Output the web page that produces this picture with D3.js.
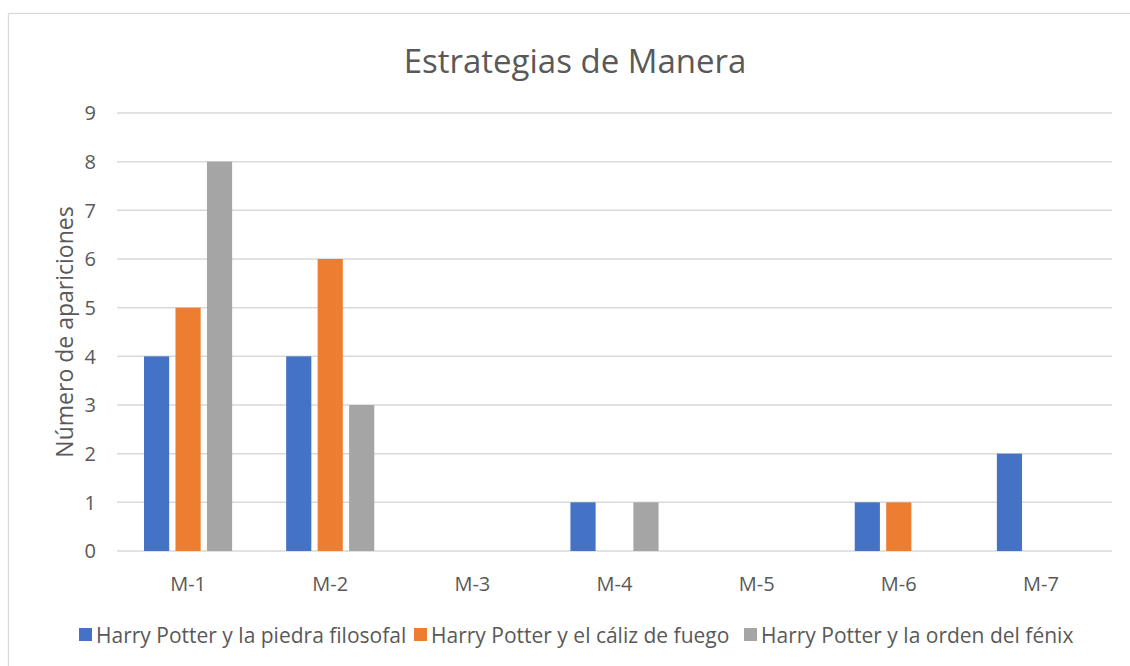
<!DOCTYPE html>
<html>
<head>
<meta charset="utf-8">
<script src="https://cdn.jsdelivr.net/npm/d3@7"></script>
<style>
  body { margin: 0; background: #fff; }
  svg { display: block; font-family: "Open Sans", "Noto Sans", sans-serif; }
</style>
</head>
<body>
<svg width="1130" height="666"></svg>
<script>
const categories = ['M-1', 'M-2', 'M-3', 'M-4', 'M-5', 'M-6', 'M-7'];
const seriesNames = [
  'Harry Potter y la piedra filosofal',
  'Harry Potter y el cáliz de fuego',
  'Harry Potter y la orden del fénix',
];
const piedraFilosofal = [4, 4, 0, 1, 0, 1, 2];
const calizDeFuego = [5, 6, 0, 0, 0, 1, 0];
const ordenDelFenix = [8, 3, 0, 1, 0, 0, 0];
const yTicks = [0, 1, 2, 3, 4, 5, 6, 7, 8, 9];
const colors = ['#4472C4', '#ED7D31', '#A5A5A5'];

const seriesValues = [piedraFilosofal, calizDeFuego, ordenDelFenix];

const svg = d3.select('svg');
const margin = { top: 113, right: 18, bottom: 115, left: 117 };
const width = 1130;
const height = 666;

// chart frame
svg.append('rect')
  .attr('x', 8.5)
  .attr('y', 13.5)
  .attr('width', 1200)
  .attr('height', 700)
  .attr('fill', 'none')
  .attr('stroke', '#d9d9d9')
  .attr('stroke-width', 1.3);

const y = d3.scaleLinear()
  .domain([0, 9])
  .range([height - margin.bottom, margin.top]);

const x0 = d3.scaleBand()
  .domain(categories)
  .range([margin.left, width - margin.right])
  .paddingInner(0.38)
  .paddingOuter(0.19);

const x1 = d3.scaleBand()
  .domain(d3.range(seriesNames.length))
  .range([0, x0.bandwidth()])
  .paddingInner(0.2);

// gridlines
svg.append('g')
  .selectAll('line')
  .data(yTicks)
  .enter()
  .append('line')
  .attr('x1', margin.left)
  .attr('x2', width - margin.right)
  .attr('y1', (d) => y(d))
  .attr('y2', (d) => y(d))
  .attr('stroke', '#d9d9d9')
  .attr('stroke-width', 1.5);

// y tick labels
svg.append('g')
  .selectAll('text')
  .data(yTicks)
  .enter()
  .append('text')
  .attr('x', 96)
  .attr('y', (d) => y(d))
  .attr('dy', '0.36em')
  .attr('text-anchor', 'end')
  .attr('font-size', 20)
  .attr('fill', '#595959')
  .text((d) => d);

// bars
const groups = svg.append('g')
  .selectAll('g')
  .data(categories)
  .enter()
  .append('g')
  .attr('transform', (d) => `translate(${x0(d)},0)`);

groups.selectAll('rect')
  .data((d, i) => seriesValues.map((vals, s) => ({ s, v: vals[i] })))
  .enter()
  .append('rect')
  .filter((d) => d.v > 0)
  .attr('x', (d) => x1(d.s))
  .attr('width', x1.bandwidth())
  .attr('y', (d) => y(d.v))
  .attr('height', (d) => y(0) - y(d.v))
  .attr('fill', (d) => colors[d.s]);

// x labels
svg.append('g')
  .selectAll('text')
  .data(categories)
  .enter()
  .append('text')
  .attr('x', (d) => x0(d) + x0.bandwidth() / 2)
  .attr('y', 591)
  .attr('text-anchor', 'middle')
  .attr('font-size', 20)
  .attr('fill', '#595959')
  .text((d) => d);

// y axis title
svg.append('text')
  .attr('transform', `translate(73,${(y(0) + y(9)) / 2}) rotate(-90)`)
  .attr('text-anchor', 'middle')
  .attr('font-size', 23)
  .attr('fill', '#595959')
  .text('Número de apariciones');

// title
svg.append('text')
  .attr('x', 575)
  .attr('y', 73)
  .attr('text-anchor', 'middle')
  .attr('font-size', 33)
  .attr('fill', '#595959')
  .text('Estrategias de Manera');

// legend
const legendX = [79, 414, 744];
const legend = svg.append('g')
  .selectAll('g')
  .data(seriesNames)
  .enter()
  .append('g')
  .attr('transform', (d, i) => `translate(${legendX[i]},628)`);

legend.append('rect')
  .attr('width', 13)
  .attr('height', 13)
  .attr('fill', (d, i) => colors[i]);

legend.append('text')
  .attr('x', 17)
  .attr('y', 14.7)
  .attr('font-size', 21)
  .attr('fill', '#595959')
  .text((d) => d);
</script>
</body>
</html>
